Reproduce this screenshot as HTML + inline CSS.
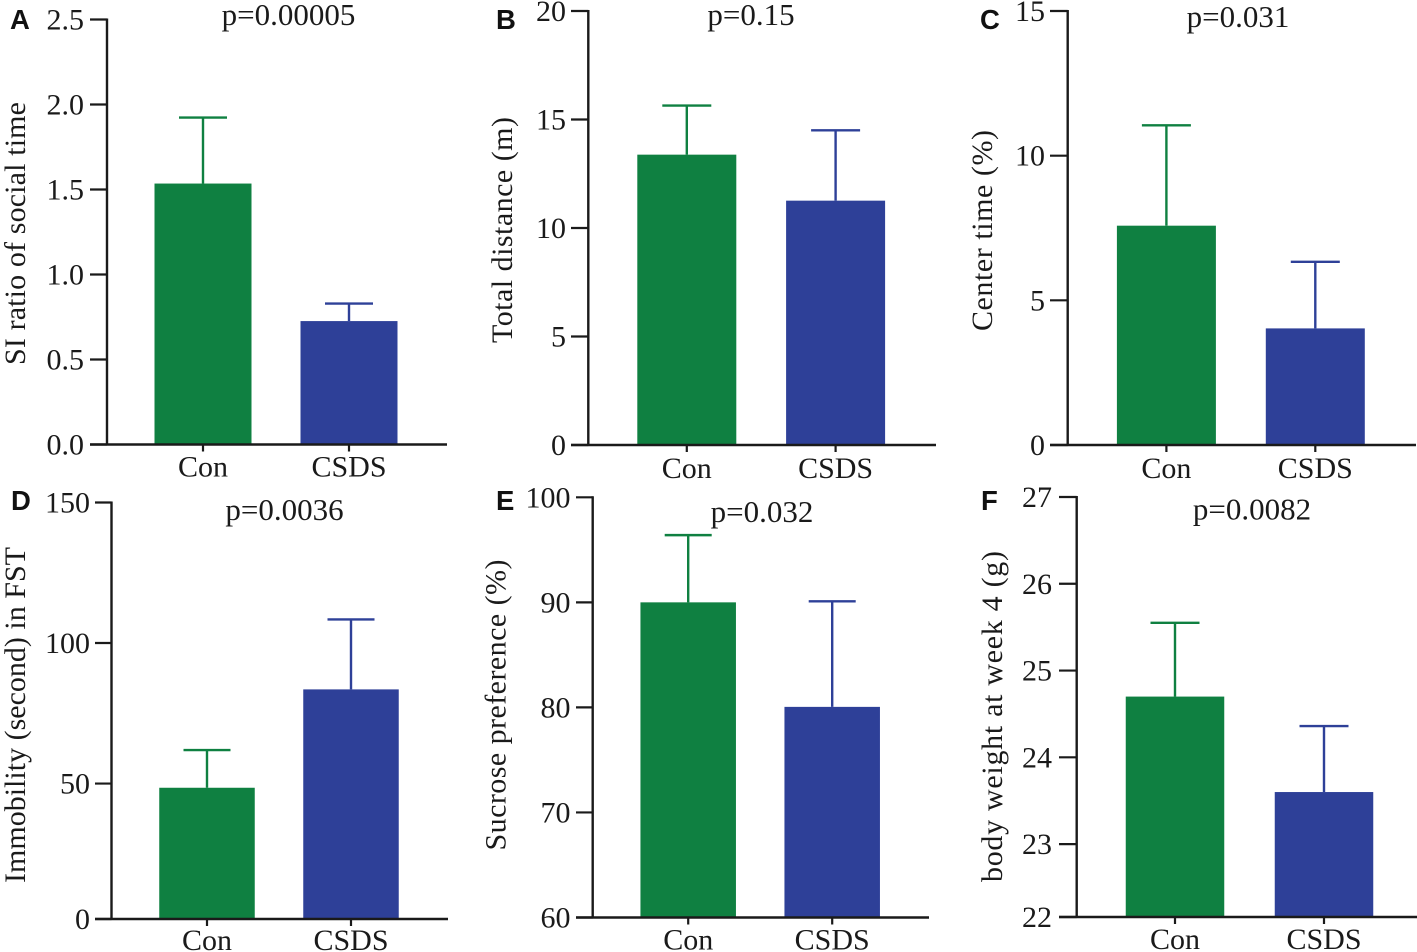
<!DOCTYPE html>
<html lang="en">
<head>
<meta charset="utf-8">
<title>CSDS behavioural bar charts</title>
<style>
html,body{margin:0;padding:0;background:#fff;width:1417px;height:952px;overflow:hidden}
svg{display:block}
text{font-family:"Liberation Serif",serif;fill:#1a1a1a}
.letter{font-family:"Liberation Sans",sans-serif;font-weight:700;font-size:27.5px;fill:#111}
</style>
</head>
<body>
<svg id="figure" xmlns="http://www.w3.org/2000/svg" width="1417" height="952" viewBox="0 0 1417 952"></svg>
<script>
// ---- Chart data ----
const categories = ["Con", "CSDS"];

const panelALetter = "A";
const panelATitle = "SI ratio of social time";
const panelAP = "p=0.00005";
const panelATicks = ["0.0", "0.5", "1.0", "1.5", "2.0", "2.5"];
const panelAMeans = [1.535, 0.726];
const panelAErrorTops = [1.923, 0.829];

const panelBLetter = "B";
const panelBTitle = "Total distance (m)";
const panelBP = "p=0.15";
const panelBTicks = ["0", "5", "10", "15", "20"];
const panelBMeans = [13.38, 11.26];
const panelBErrorTops = [15.64, 14.5];

const panelCLetter = "C";
const panelCTitle = "Center time (%)";
const panelCP = "p=0.031";
const panelCTicks = ["0", "5", "10", "15"];
const panelCMeans = [7.58, 4.03];
const panelCErrorTops = [11.05, 6.33];

const panelDLetter = "D";
const panelDTitle = "Immobility (second) in FST";
const panelDP = "p=0.0036";
const panelDTicks = ["0", "50", "100", "150"];
const panelDMeans = [48.5, 83.5];
const panelDErrorTops = [61.9, 108.4];

const panelELetter = "E";
const panelETitle = "Sucrose preference (%)";
const panelEP = "p=0.032";
const panelETicks = ["60", "70", "80", "90", "100"];
const panelEMeans = [90, 80.05];
const panelEErrorTops = [96.4, 90.1];

const panelFLetter = "F";
const panelFTitle = "body weight at week 4 (g)";
const panelFP = "p=0.0082";
const panelFTicks = ["22", "23", "24", "25", "26", "27"];
const panelFMeans = [24.7, 23.6];
const panelFErrorTops = [25.55, 24.36];

// ---- Panel assembly: data plus layout ----
const panels = [
  {key:"a", letter:panelALetter, title:panelATitle, p:panelAP, ticks:panelATicks, means:panelAMeans, errs:panelAErrorTops,
   layout:{ax:107, top:19.5, base:444.5, xs:90, xe:447, c:[203,349], bw:97, cap:24, min:0, max:2.5, lx:84, tx:25, ty:233.5, tl:263, px:288.5, py:25, ltx:10, lty:29, catDy:32}},
  {key:"b", letter:panelBLetter, title:panelBTitle, p:panelBP, ticks:panelBTicks, means:panelBMeans, errs:panelBErrorTops,
   layout:{ax:588.3, top:11, base:445, xs:571, xe:936, c:[686.8,835.6], bw:99, cap:24.5, min:0, max:20, lx:566, tx:512, ty:230, tl:226, px:751, py:25, ltx:496, lty:29, catDy:33}},
  {key:"c", letter:panelCLetter, title:panelCTitle, p:panelCP, ticks:panelCTicks, means:panelCMeans, errs:panelCErrorTops,
   layout:{ax:1067.7, top:11, base:445, xs:1050, xe:1416, c:[1166.4,1315.3], bw:99, cap:24.5, min:0, max:15, lx:1045, tx:992, ty:230.5, tl:201, px:1238, py:27, ltx:980, lty:29, catDy:33}},
  {key:"d", letter:panelDLetter, title:panelDTitle, p:panelDP, ticks:panelDTicks, means:panelDMeans, errs:panelDErrorTops,
   layout:{ax:111.5, top:502.5, base:919, xs:95, xe:448, c:[207,351], bw:95.5, cap:23.5, min:1.8, max:150, lx:90, tx:25, ty:715, tl:336, px:284.5, py:520, ltx:11, lty:510, catDy:31}},
  {key:"e", letter:panelELetter, title:panelETitle, p:panelEP, ticks:panelETicks, means:panelEMeans, errs:panelEErrorTops,
   layout:{ax:592.7, top:497.3, base:917.5, xs:576, xe:929, c:[688.2,832.2], bw:95.5, cap:23.5, min:60, max:100, lx:570.5, tx:505.5, ty:705, tl:291, px:762, py:522, ltx:496, lty:510, catDy:32}},
  {key:"f", letter:panelFLetter, title:panelFTitle, p:panelFP, ticks:panelFTicks, means:panelFMeans, errs:panelFErrorTops,
   layout:{ax:1076.7, top:497, base:917, xs:1059, xe:1417, c:[1175,1324], bw:98.5, cap:24.5, min:22.16, max:27, lx:1052, tx:1002, ty:716.5, tl:331, px:1252, py:519.5, ltx:981, lty:510, catDy:32}}
];
const seriesColors = ["#0f8041", "#2e4098"];

// ---- Rendering ----
const NS = "http://www.w3.org/2000/svg";
const root = document.getElementById("figure");

function make(tag, parent, name, attrs) {
  const el = document.createElementNS(NS, tag);
  
  
  for (const k in attrs) el.setAttribute(k, attrs[k]);
  parent.appendChild(el);
  return el;
}
function line(parent, name, x1, y1, x2, y2, color, w) {
  return make("line", parent, name, {x1:x1, y1:y1, x2:x2, y2:y2, stroke:color, "stroke-width":w});
}
function label(parent, name, str, attrs) {
  const t = make("text", parent, name, attrs);
  t.textContent = str;
  return t;
}

panels.forEach(function (p) {
  const L = p.layout;
  const yScale = function (v) {
    const y = L.top + (L.max - v) / (L.max - L.min) * (L.base - L.top);
    return Math.min(y, L.base);
  };
  const g = make("g", root, "panel-" + p.key, {});

  label(g, "panel-letter-" + p.key, p.letter, {x:L.ltx, y:L.lty, "class":"letter"});
  label(g, "p-value-" + p.key, p.p, {x:L.px, y:L.py, "text-anchor":"middle", "font-size":31});
  label(g, "y-axis-title-" + p.key, p.title, {
    transform:"translate(" + L.tx + "," + L.ty + ") rotate(-90)",
    "text-anchor":"middle", "font-size":30, textLength:L.tl, lengthAdjust:"spacing"
  });

  categories.forEach(function (cat, i) {
    const cx = L.c[i];
    const color = seriesColors[i];
    const yMean = yScale(p.means[i]);
    const yErr = yScale(p.errs[i]);
    line(g, "error-stem-" + p.key + "-" + cat.toLowerCase(), cx, yMean, cx, yErr, color, 2.4);
    line(g, "error-cap-" + p.key + "-" + cat.toLowerCase(), cx - L.cap, yErr, cx + L.cap, yErr, color, 2.4);
    make("rect", g, "bar-" + p.key + "-" + cat.toLowerCase(), {x:cx - L.bw / 2, y:yMean, width:L.bw, height:L.base - yMean, fill:color});
    line(g, "x-tick-" + p.key + "-" + cat.toLowerCase(), cx, L.base, cx, L.base + 7, "#1a1a1a", 2.2);
    label(g, "x-label-" + p.key + "-" + cat.toLowerCase(), cat, {x:cx, y:L.base + L.catDy, "text-anchor":"middle", "font-size":30});
  });

  line(g, "y-axis-" + p.key, L.ax, L.top - 1, L.ax, L.base + 1, "#1a1a1a", 2.4);
  line(g, "x-axis-" + p.key, L.xs, L.base, L.xe, L.base, "#1a1a1a", 2.4);

  p.ticks.forEach(function (tick) {
    const y = yScale(parseFloat(tick));
    line(g, "y-tick-" + p.key + "-" + tick, L.xs, y, L.ax, y, "#1a1a1a", 2.2);
    label(g, "y-label-" + p.key + "-" + tick, tick, {x:L.lx, y:y + 10, "text-anchor":"end", "font-size":30});
  });
});
</script>
</body>
</html>
